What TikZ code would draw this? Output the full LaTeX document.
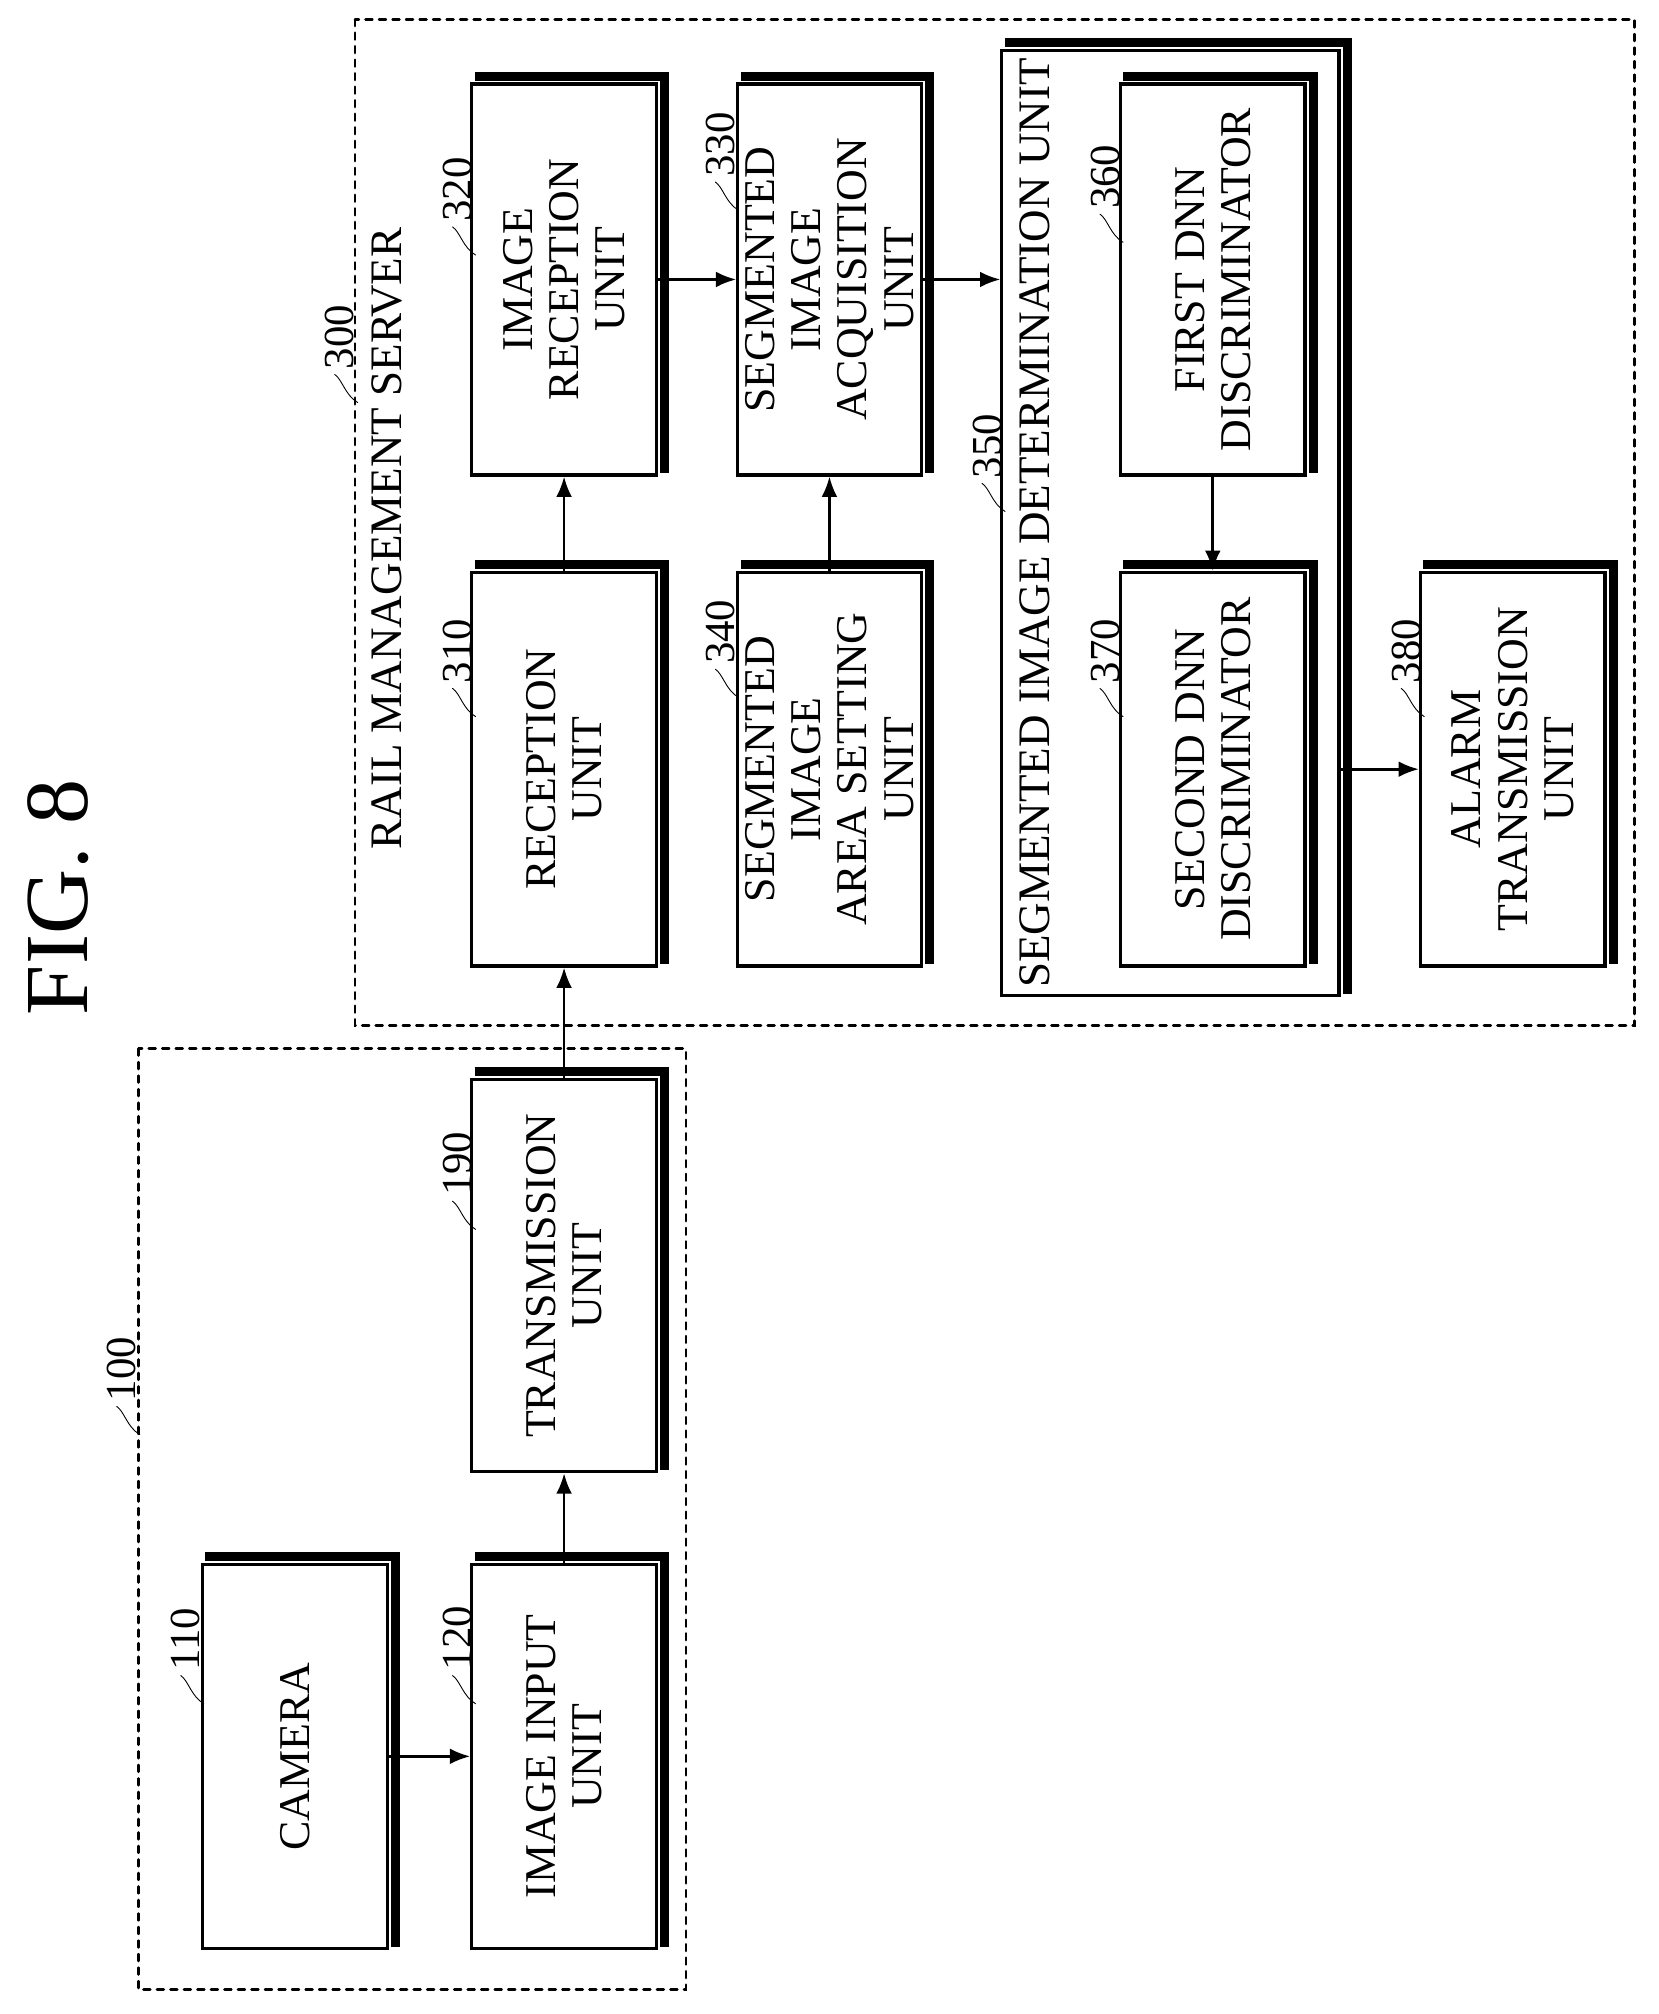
\documentclass[tikz,border=0pt]{standalone}
\usepackage{fontspec}
\setmainfont{Liberation Serif}
\usetikzlibrary{arrows.meta}
\newcommand{\reflabel}[3]{%
  \node[num,anchor=west] at (#1,#2) {#3};
  \draw[thin] (#1-4,#2+2) .. controls (#1+2,#2+6) and (#1+4,#2+18) .. (#1+14,#2+24);}
\begin{document}
\begin{tikzpicture}
  [x=0.02cm,y=-0.02cm,line cap=round,
  %Styles
  unit/.style={draw,line width=1.4pt,rotate=90,inner sep=0pt,align=center,
    font=\fontsize{19.5}{20.5}\selectfont},
  shadow/.style={line width=4pt,line cap=butt},
  group/.style={draw,dashed,line width=1.2pt},
  num/.style={rotate=90,font=\fontsize{19}{20}\selectfont,inner sep=1pt},
  title/.style={rotate=90,font=\fontsize{20}{21}\selectfont,inner sep=0pt},
  arr/.style={-{Latex[length=9pt,width=7pt]},line width=1.2pt}
  ]
  \useasboundingbox (0,0) rectangle (1294,1571);

  %Groups
  \draw[group] (108,818) rectangle (535,1552);
  \draw[group] (277,15) rectangle (1275,800);
  \node[rotate=90,font=\fontsize{40}{40}\selectfont] (fig) at (45,700) {FIG. 8};

  %Units
  \node[unit,minimum width=6cm,minimum height=2.88cm] (camera) at (230,1370) {CAMERA};
  \node[unit,minimum width=6cm,minimum height=2.88cm] (imginput) at (440,1370) {IMAGE INPUT\\UNIT};
  \node[unit,minimum width=6.12cm,minimum height=2.88cm] (trans) at (440,995) {TRANSMISSION\\UNIT};
  \node[unit,minimum width=6.14cm,minimum height=2.88cm] (recep) at (440,600) {RECEPTION\\UNIT};
  \node[unit,minimum width=6.1cm,minimum height=2.88cm] (imgrecep) at (440,218) {IMAGE\\RECEPTION\\UNIT};
  \node[unit,minimum width=6.1cm,minimum height=2.86cm] (segacq) at (647,218) {SEGMENTED\\IMAGE\\ACQUISITION\\UNIT};
  \node[unit,minimum width=6.14cm,minimum height=2.86cm] (segarea) at (647,600) {SEGMENTED\\IMAGE\\AREA SETTING\\UNIT};
  \node[unit,minimum width=14.74cm,minimum height=5.26cm] (segdet) at (913,408) {};
  \node[title,anchor=north] (segdettitle) at (795,408) {SEGMENTED IMAGE DETERMINATION UNIT};
  \node[unit,minimum width=6.1cm,minimum height=2.88cm] (dnn1) at (946,218) {FIRST DNN\\DISCRIMINATOR};
  \node[unit,minimum width=6.14cm,minimum height=2.88cm] (dnn2) at (946,600) {SECOND DNN\\DISCRIMINATOR};
  \node[unit,minimum width=6.14cm,minimum height=2.88cm] (alarm) at (1180,600) {ALARM\\TRANSMISSION\\UNIT};
  \node[title] (servertitle) at (302,420) {RAIL MANAGEMENT SERVER};

  %Thick top and right edges
  \foreach \n in {camera,imginput,trans,recep,imgrecep,segacq,segarea,segdet,dnn1,dnn2,alarm}
    \draw[shadow] ([shift={(0.07cm,0.1cm)}]\n.north east) --
      ([shift={(0.1cm,0.1cm)}]\n.south east) --
      ([shift={(0.1cm,0.05cm)}]\n.south west);

  %Reference numerals
  \reflabel{145}{1305}{110}
  \reflabel{357}{1305}{120}
  \reflabel{357}{935}{190}
  \reflabel{95}{1095}{100}
  \reflabel{265}{290}{300}
  \reflabel{357}{535}{310}
  \reflabel{357}{175}{320}
  \reflabel{562}{140}{330}
  \reflabel{562}{520}{340}
  \reflabel{770}{375}{350}
  \reflabel{862}{165}{360}
  \reflabel{862}{535}{370}
  \reflabel{1097}{535}{380}

  %Connections
  \draw[arr] (camera.south) -- (imginput.north);
  \draw[arr] (imginput.east) -- (trans.west);
  \draw[arr] (trans.east) -- (recep.west);
  \draw[arr] (recep.east) -- (imgrecep.west);
  \draw[arr] (imgrecep.south) -- (segacq.north);
  \draw[arr] (segarea.east) -- (segacq.west);
  \draw[arr] (segacq.south) -- (segacq.south -| segdet.north);
  \draw[arr] (dnn1.west) -- (dnn2.east);
  \draw[arr] (alarm.north -| segdet.south) -- (alarm.north);
\end{tikzpicture}
\end{document}
